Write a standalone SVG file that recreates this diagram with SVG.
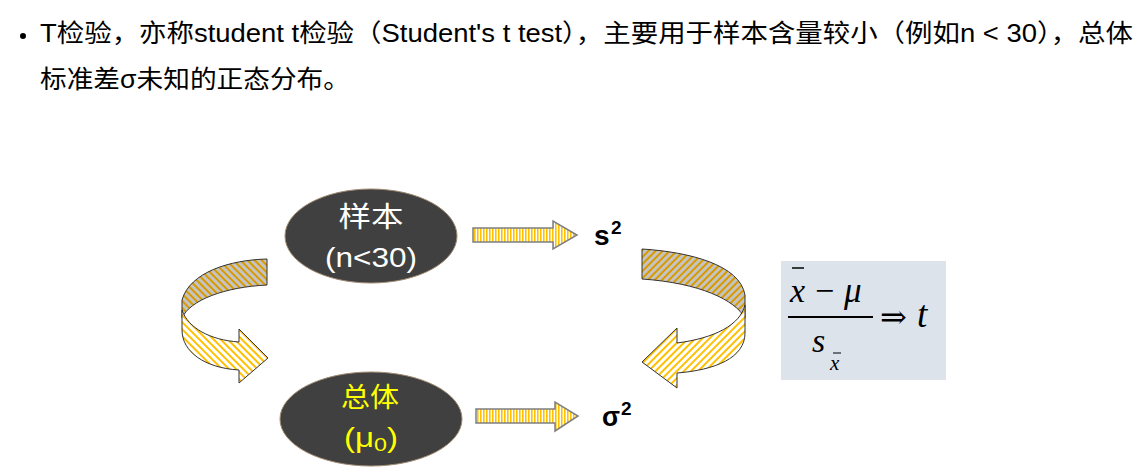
<svg xmlns="http://www.w3.org/2000/svg" width="1148" height="474" viewBox="0 0 1148 474">
<defs>
<style>
.hdr{font-family:"Liberation Sans","Noto Sans CJK SC",sans-serif;font-size:25px;fill:#000}
.ell{fill:#404040;stroke:#a08a70;stroke-width:1}
.wt{font-family:"Liberation Sans","Noto Sans CJK SC",sans-serif;fill:#fff;text-anchor:middle}
.yt{font-family:"Liberation Sans","Noto Sans CJK SC",sans-serif;fill:#ffff00;text-anchor:middle}
.sym{font-family:"Liberation Sans",sans-serif;font-weight:bold;fill:#000}
.math{font-family:"Liberation Serif",serif;font-style:italic;fill:#000}
.straight{stroke:#7f7f7f;stroke-width:1.5;fill:url(#vstripe)}
.back{stroke:#333;stroke-width:1;stroke-linejoin:round}
.front{stroke:#333;stroke-width:1;stroke-linejoin:round}
</style>
<pattern id="vstripe" patternUnits="userSpaceOnUse" width="3" height="10">
<rect width="3" height="10" fill="#fff"/>
<rect width="1.6" height="10" fill="#ffc000"/>
</pattern>
<pattern id="backL" patternUnits="userSpaceOnUse" width="5" height="10" patternTransform="rotate(-45)">
<rect width="5" height="10" fill="#c4c4c4"/>
<rect width="2" height="10" fill="#d99a00"/>
</pattern>
<pattern id="frontL" patternUnits="userSpaceOnUse" width="5" height="10" patternTransform="rotate(-45)">
<rect width="5" height="10" fill="#fff"/>
<rect width="2" height="10" fill="#ffc000"/>
</pattern>
<pattern id="backR" patternUnits="userSpaceOnUse" width="5" height="10" patternTransform="rotate(45)">
<rect width="5" height="10" fill="#c4c4c4"/>
<rect width="2" height="10" fill="#d99a00"/>
</pattern>
<pattern id="frontR" patternUnits="userSpaceOnUse" width="5" height="10" patternTransform="rotate(45)">
<rect width="5" height="10" fill="#fff"/>
<rect width="2" height="10" fill="#ffc000"/>
</pattern>
</defs>
<rect width="1148" height="474" fill="#fff"/>

<g id="header">
<circle cx="23" cy="36" r="3" fill="#000"/>
<text class="hdr" x="40" y="42" textLength="1093" lengthAdjust="spacingAndGlyphs">T检验，亦称student t检验（Student's t test），主要用于样本含量较小（例如n &lt; 30），总体</text>
<text class="hdr" x="40" y="88" textLength="310" lengthAdjust="spacingAndGlyphs">标准差σ未知的正态分布。</text>
</g>

<g id="sample">
<ellipse class="ell" cx="371" cy="236" rx="86" ry="47"/>
<text class="wt" x="371" y="227" font-size="28" textLength="65" lengthAdjust="spacingAndGlyphs">样本</text>
<text class="wt" x="371" y="267" font-size="27" textLength="92" lengthAdjust="spacingAndGlyphs">(n&lt;30)</text>
</g>

<g id="population">
<ellipse class="ell" cx="371" cy="419" rx="91" ry="47"/>
<text class="yt" x="370" y="407" font-size="27" textLength="58" lengthAdjust="spacingAndGlyphs">总体</text>
<text class="yt" x="371" y="447" font-size="27" textLength="54" lengthAdjust="spacingAndGlyphs">(μ<tspan font-size="19" dy="4">0</tspan><tspan dy="-4">)</tspan></text>
</g>

<g id="s2">
<text class="sym" x="594" y="245" font-size="28">s</text>
<text class="sym" x="611" y="234" font-size="19">2</text>
</g>

<g id="sigma2">
<text class="sym" x="602" y="426" font-size="28" textLength="18" lengthAdjust="spacingAndGlyphs">σ</text>
<text class="sym" x="621" y="415" font-size="19">2</text>
</g>

<g id="formula">
<rect x="781" y="261" width="165" height="119" fill="#dce3eb"/>
<line x1="792" y1="268" x2="804" y2="268" stroke="#000" stroke-width="1.5"/>
<text class="math" x="790" y="302" font-size="34">x</text>
<text x="815" y="302" font-size="34" font-family="Liberation Serif,serif">−</text>
<text class="math" x="844" y="302" font-size="35">μ</text>
<line x1="788" y1="317" x2="873" y2="317" stroke="#000" stroke-width="2"/>
<text x="880" y="328" font-size="32" font-family="DejaVu Serif,serif">⇒</text>
<text class="math" x="917" y="327" font-size="37">t</text>
<text class="math" x="812" y="352" font-size="34">s</text>
<line x1="833" y1="353" x2="841" y2="353" stroke="#000" stroke-width="1"/>
<text class="math" x="830" y="370" font-size="21">x</text>
</g>

<g id="connectors">
<path class="straight" d="M473,228 L553,228 L553,221 L577,235 L553,249 L553,242 L473,242 Z"/>
<path class="straight" d="M476,409 L555,409 L555,402 L578,416 L555,431 L555,423 L476,423 Z"/>
<path class="back" fill="url(#backL)" d="M267,259 C230,260 190,272 182,300 L182,318 C190,300 225,287 267,285 Z"/>
<path class="front" fill="url(#frontL)" d="M182,310 C188,328 210,340 239,342 L239,329 L268,358 L239,383 L239,370 C205,368 182,352 182,330 Z"/>
<path class="back" fill="url(#backR)" d="M642,249 C690,252 740,265 745,295 L745,318 C735,300 700,283 642,279 Z"/>
<path class="front" fill="url(#frontR)" d="M745,305 C740,325 715,338 677,343 L677,328 L642,362 L677,388 L677,373 C715,370 745,358 745,333 Z"/>
</g>
</svg>
